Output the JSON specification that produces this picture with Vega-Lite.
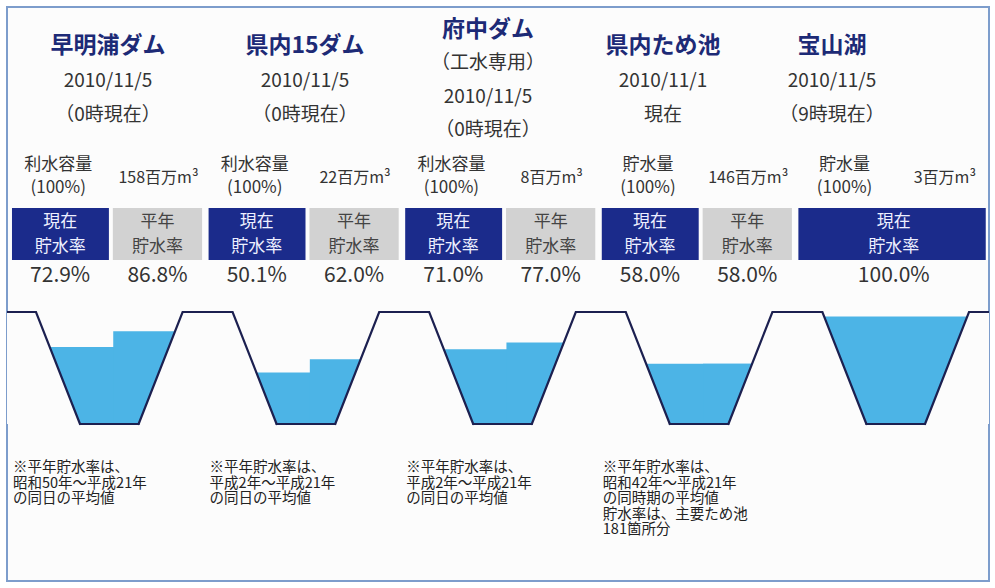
{
  "$schema": "https://vega.github.io/schema/vega-lite/v6.json",
  "width": 995,
  "height": 588,
  "autosize": {"type": "fit", "contains": "padding"},
  "padding": {"left": 7, "top": 7, "right": 6, "bottom": 7},
  "background": "#ffffff",
  "config": {
    "view": {"stroke": "#7d9dcc", "strokeWidth": 2, "fill": "#fcfcfc"},
    "text": {"font": "Noto Sans CJK JP"}
  },
  "datasets": {
    "dams": [
      {"i": 0, "name": "早明浦ダム", "body": ["2010/11/5", "（0時現在）"], "capLabel": ["利水容量", "(100%)"], "cap": 158, "cur": 72.9, "avg": 86.8, "note": ["※平年貯水率は、", "昭和50年～平成21年", "の同日の平均値"]},
      {"i": 1, "name": "県内15ダム", "body": ["2010/11/5", "（0時現在）"], "capLabel": ["利水容量", "(100%)"], "cap": 22, "cur": 50.1, "avg": 62.0, "note": ["※平年貯水率は、", "平成2年～平成21年", "の同日の平均値"]},
      {"i": 2, "name": "府中ダム", "body": ["（工水専用）", "2010/11/5", "（0時現在）"], "capLabel": ["利水容量", "(100%)"], "cap": 8, "cur": 71.0, "avg": 77.0, "note": ["※平年貯水率は、", "平成2年～平成21年", "の同日の平均値"]},
      {"i": 3, "name": "県内ため池", "body": ["2010/11/1", "現在"], "capLabel": ["貯水量", "(100%)"], "cap": 146, "cur": 58.0, "avg": 58.0, "note": ["※平年貯水率は、", "昭和42年～平成21年", "の同時期の平均値", "貯水率は、主要ため池", "181箇所分"]},
      {"i": 4, "name": "宝山湖", "body": ["2010/11/5", "（9時現在）"], "capLabel": ["貯水量", "(100%)"], "cap": 3, "cur": 100.0, "avg": null, "note": null}
    ]
  },
  "data": {"name": "dams"},
  "resolve": {"scale": {"x": "independent", "y": "independent"}},
  "layer": [
    {
      "layer": [
        {
          "mark": {"type": "rect", "color": "#4cb4e6", "clip": true},
          "encoding": {
            "x": {"field": "name", "type": "nominal", "sort": null, "scale": {"type": "band", "domain": ["早明浦ダム", "県内15ダム", "府中ダム", "県内ため池", "宝山湖"], "range": [4, 987], "paddingInner": 0, "paddingOuter": 0}, "axis": null},
            "y": {"field": "cur", "type": "quantitative", "scale": {"domain": [-135.3, 375.4]}, "axis": null},
            "y2": {"datum": 5}
          }
        },
        {
          "transform": [{"filter": "datum.avg != null"}],
          "mark": {"type": "rect", "color": "#4cb4e6", "clip": true},
          "encoding": {
            "x": {"field": "name", "type": "nominal", "sort": null, "bandPosition": 0.52, "scale": {"type": "band", "domain": ["早明浦ダム", "県内15ダム", "府中ダム", "県内ため池", "宝山湖"], "range": [4, 987], "paddingInner": 0, "paddingOuter": 0}, "axis": null},
            "x2": {"field": "name", "bandPosition": 1},
            "y": {"field": "avg", "type": "quantitative", "scale": {"domain": [-135.3, 375.4]}, "axis": null},
            "y2": {"datum": 5}
          }
        },
        {
          "mark": {"type": "point", "shape": "M -0.69 0.56 L -0.25 -0.56 L 0.25 -0.56 L 0.69 0.56", "size": 40000, "filled": true, "fill": "#fcfcfc", "stroke": "#1c2050", "strokeWidth": 2.2, "opacity": 1, "strokeCap": "round", "clip": true},
          "encoding": {
            "x": {"field": "name", "type": "nominal", "sort": null, "bandPosition": 0, "scale": {"type": "band", "domain": ["早明浦ダム", "県内15ダム", "府中ダム", "県内ため池", "宝山湖"], "range": [4, 987], "paddingInner": 0, "paddingOuter": 0}, "axis": null},
            "y": {"datum": 54.2, "type": "quantitative", "scale": {"domain": [-135.3, 375.4]}, "axis": null}
          }
        },
        {
          "transform": [{"filter": "datum.i == 4"}],
          "mark": {"type": "point", "shape": "M -0.69 0.56 L -0.25 -0.56 L 0.25 -0.56 L 0.69 0.56", "size": 40000, "filled": true, "fill": "#fcfcfc", "stroke": "#1c2050", "strokeWidth": 2.2, "opacity": 1, "strokeCap": "round", "clip": true},
          "encoding": {
            "x": {"field": "name", "type": "nominal", "sort": null, "bandPosition": 1, "scale": {"type": "band", "domain": ["早明浦ダム", "県内15ダム", "府中ダム", "県内ため池", "宝山湖"], "range": [4, 987], "paddingInner": 0, "paddingOuter": 0}, "axis": null},
            "y": {"datum": 54.2, "type": "quantitative", "scale": {"domain": [-135.3, 375.4]}, "axis": null}
          }
        },
        {
          "mark": {"type": "point", "shape": "M -0.293 0.56 L 0.293 0.56", "size": 40000, "filled": false, "stroke": "#1c2050", "strokeWidth": 2.2, "opacity": 1, "strokeCap": "round"},
          "encoding": {
            "x": {"field": "name", "type": "nominal", "sort": null, "bandPosition": 0.5, "scale": {"type": "band", "domain": ["早明浦ダム", "県内15ダム", "府中ダム", "県内ため池", "宝山湖"], "range": [4, 987], "paddingInner": 0, "paddingOuter": 0}, "axis": null},
            "y": {"datum": 54.2, "type": "quantitative", "scale": {"domain": [-135.3, 375.4]}, "axis": null}
          }
        }
      ]
    },
    {
      "encoding": {
        "x": {"field": "name", "type": "nominal", "sort": null, "scale": {"type": "band", "domain": ["早明浦ダム", "県内15ダム", "府中ダム", "県内ため池", "宝山湖"], "range": [4, 987], "paddingInner": 0, "paddingOuter": 0}, "axis": null}
      },
      "layer": [
        {
          "transform": [{"filter": "datum.avg != null"}],
          "mark": {"type": "rect", "color": "#1b2b8b"},
          "encoding": {
            "x": {"field": "name", "type": "nominal", "sort": null, "bandPosition": 0.005},
            "x2": {"field": "name", "bandPosition": 0.498},
            "y": {"datum": 208, "type": "quantitative", "scale": {"domain": [7, 581], "reverse": true}, "axis": null},
            "y2": {"datum": 260}
          }
        },
        {
          "transform": [{"filter": "datum.avg != null"}],
          "mark": {"type": "rect", "color": "#d2d2d2"},
          "encoding": {
            "x": {"field": "name", "type": "nominal", "sort": null, "bandPosition": 0.518},
            "x2": {"field": "name", "bandPosition": 0.972},
            "y": {"datum": 208, "type": "quantitative", "scale": {"domain": [7, 581], "reverse": true}, "axis": null},
            "y2": {"datum": 260}
          }
        },
        {
          "transform": [{"filter": "datum.avg == null"}],
          "mark": {"type": "rect", "color": "#1b2b8b"},
          "encoding": {
            "x": {"field": "name", "type": "nominal", "sort": null, "bandPosition": 0.005},
            "x2": {"field": "name", "bandPosition": 0.958},
            "y": {"datum": 208, "type": "quantitative", "scale": {"domain": [7, 581], "reverse": true}, "axis": null},
            "y2": {"datum": 260}
          }
        },
        {
          "transform": [{"filter": "datum.avg != null"}],
          "mark": {"type": "text", "text": ["現在", "貯水率"], "fontSize": 17, "lineHeight": 25, "color": "#eef0ff"},
          "encoding": {
            "x": {"field": "name", "type": "nominal", "sort": null, "bandPosition": 0.25},
            "y": {"datum": 222, "type": "quantitative", "scale": {"domain": [7, 581], "reverse": true}, "axis": null}
          }
        },
        {
          "transform": [{"filter": "datum.avg != null"}],
          "mark": {"type": "text", "text": ["平年", "貯水率"], "fontSize": 17, "lineHeight": 25, "color": "#444444"},
          "encoding": {
            "x": {"field": "name", "type": "nominal", "sort": null, "bandPosition": 0.745},
            "y": {"datum": 222, "type": "quantitative", "scale": {"domain": [7, 581], "reverse": true}, "axis": null}
          }
        },
        {
          "transform": [{"filter": "datum.avg == null"}],
          "mark": {"type": "text", "text": ["現在", "貯水率"], "fontSize": 17, "lineHeight": 25, "color": "#eef0ff"},
          "encoding": {
            "x": {"field": "name", "type": "nominal", "sort": null, "bandPosition": 0.49},
            "y": {"datum": 222, "type": "quantitative", "scale": {"domain": [7, 581], "reverse": true}, "axis": null}
          }
        },
        {
          "mark": {"type": "text", "fontSize": 17, "lineHeight": 23, "color": "#333333"},
          "encoding": {
            "x": {"field": "name", "type": "nominal", "sort": null, "bandPosition": 0.24},
            "y": {"datum": 165, "type": "quantitative", "scale": {"domain": [7, 581], "reverse": true}, "axis": null},
            "text": {"field": "capLabel"}
          }
        },
        {
          "mark": {"type": "text", "fontSize": 16, "color": "#333333", "text": {"expr": "datum.cap + '百万m³'"}},
          "encoding": {
            "x": {"field": "name", "type": "nominal", "sort": null, "bandPosition": 0.75},
            "y": {"datum": 178, "type": "quantitative", "scale": {"domain": [7, 581], "reverse": true}, "axis": null}
          }
        },
        {
          "transform": [{"filter": "datum.avg != null"}],
          "mark": {"type": "text", "fontSize": 21, "color": "#333333", "text": {"expr": "format(datum.cur, '.1f') + '%'"}},
          "encoding": {
            "x": {"field": "name", "type": "nominal", "sort": null, "bandPosition": 0.25},
            "y": {"datum": 276, "type": "quantitative", "scale": {"domain": [7, 581], "reverse": true}, "axis": null}
          }
        },
        {
          "transform": [{"filter": "datum.avg != null"}],
          "mark": {"type": "text", "fontSize": 21, "color": "#333333", "text": {"expr": "format(datum.avg, '.1f') + '%'"}},
          "encoding": {
            "x": {"field": "name", "type": "nominal", "sort": null, "bandPosition": 0.745},
            "y": {"datum": 276, "type": "quantitative", "scale": {"domain": [7, 581], "reverse": true}, "axis": null}
          }
        },
        {
          "transform": [{"filter": "datum.avg == null"}],
          "mark": {"type": "text", "fontSize": 21, "color": "#333333", "text": {"expr": "format(datum.cur, '.1f') + '%'"}},
          "encoding": {
            "x": {"field": "name", "type": "nominal", "sort": null, "bandPosition": 0.49},
            "y": {"datum": 276, "type": "quantitative", "scale": {"domain": [7, 581], "reverse": true}, "axis": null}
          }
        },
        {
          "transform": [{"filter": "datum.note != null"}],
          "mark": {"type": "text", "fontSize": 14.5, "lineHeight": 15.5, "align": "left", "baseline": "top", "dx": 2, "color": "#222222"},
          "encoding": {
            "x": {"field": "name", "type": "nominal", "sort": null, "bandPosition": 0},
            "y": {"datum": 461, "type": "quantitative", "scale": {"domain": [7, 581], "reverse": true}, "axis": null},
            "text": {"field": "note"}
          }
        }
      ]
    },
    {
      "encoding": {
        "x": {"field": "i", "type": "quantitative", "scale": {"domain": [0, 1, 2, 3, 4], "range": [101, 298, 481, 656, 825]}, "axis": null}
      },
      "layer": [
        {
          "transform": [{"filter": "length(datum.body) == 2"}],
          "mark": {"type": "text", "fontSize": 23, "fontWeight": "bold", "color": "#1d2a76"},
          "encoding": {
            "y": {"datum": 46, "type": "quantitative", "scale": {"domain": [7, 581], "reverse": true}, "axis": null},
            "text": {"field": "name"}
          }
        },
        {
          "transform": [{"filter": "length(datum.body) == 3"}],
          "mark": {"type": "text", "fontSize": 23, "fontWeight": "bold", "color": "#1d2a76"},
          "encoding": {
            "y": {"datum": 30, "type": "quantitative", "scale": {"domain": [7, 581], "reverse": true}, "axis": null},
            "text": {"field": "name"}
          }
        },
        {
          "transform": [{"filter": "length(datum.body) == 2"}],
          "mark": {"type": "text", "fontSize": 19, "lineHeight": 34, "color": "#333333"},
          "encoding": {
            "y": {"datum": 81, "type": "quantitative", "scale": {"domain": [7, 581], "reverse": true}, "axis": null},
            "text": {"field": "body"}
          }
        },
        {
          "transform": [{"filter": "length(datum.body) == 3"}],
          "mark": {"type": "text", "fontSize": 19, "lineHeight": 33.5, "color": "#333333"},
          "encoding": {
            "y": {"datum": 63, "type": "quantitative", "scale": {"domain": [7, 581], "reverse": true}, "axis": null},
            "text": {"field": "body"}
          }
        }
      ]
    }
  ]
}
